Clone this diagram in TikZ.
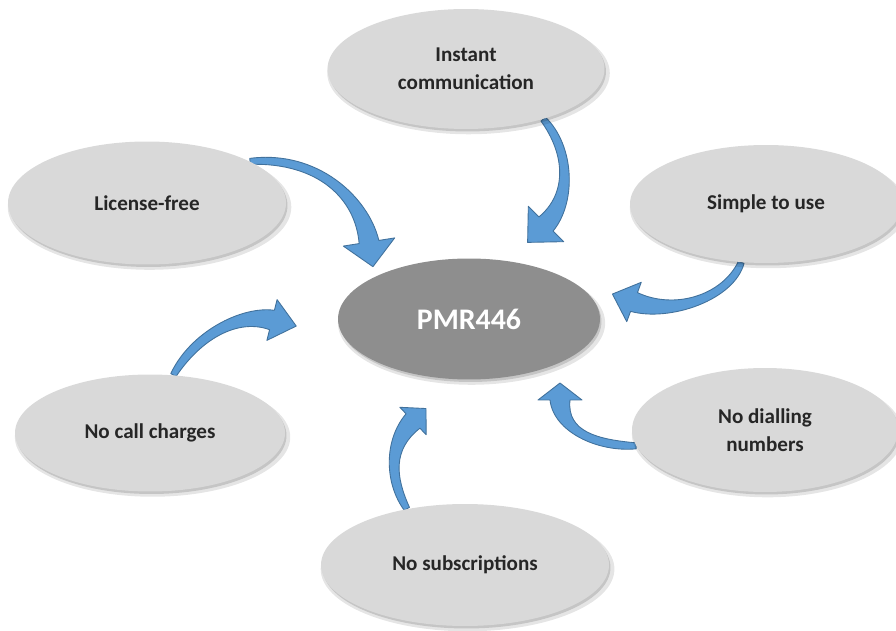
\documentclass[tikz,border=0pt]{standalone}
\usepackage{fontspec}
\setmainfont{Carlito}
\usepackage{tikz}
\usetikzlibrary{shapes.geometric}
\usetikzlibrary{calc}
\usetikzlibrary{shadows}
\pgfdeclarelayer{edgelayer}
\pgfsetlayers{edgelayer,main}
\definecolor{bubblegray}{HTML}{D9D9D9}
\definecolor{hubgray}{HTML}{8E8E8E}
\definecolor{arrowblue}{HTML}{5B9BD5}
\definecolor{arrowedge}{HTML}{41719C}
\tikzset{softshadow/.style={
drop shadow={shadow xshift=0.05cm, shadow yshift=-0.08cm, shadow scale=1.02, opacity=.10, fill=black},
drop shadow={shadow xshift=0.03cm, shadow yshift=-0.05cm, opacity=.14, fill=black}}}
\tikzset{bubble/.style={ellipse, inner sep=0pt, fill=bubblegray, softshadow, align=center,
text=black!85, font=\bfseries\fontsize{12}{15.9}\selectfont}}
\tikzset{hubnode/.style={ellipse, inner sep=0pt, fill=hubgray, softshadow,
text=white, font=\bfseries\fontsize{17}{20}\selectfont}}
\tikzset{blockarrow/.style={fill=arrowblue, draw=arrowedge, line width=0.5pt, line join=round}}
% half widths of the bent arrows: tail, middle, shaft at the head
\newcommand{\tailwid}{0.06cm}
\newcommand{\midwid}{0.13cm}
\newcommand{\shaftwid}{0.2cm}
% tapered bent arrow: tail, two control points, head base, head length, head half width (px)
\newcommand{\bentarrow}[6]{%
\path #1 coordinate (ba-t) #2 coordinate (ba-p) #3 coordinate (ba-q) #4 coordinate (ba-b);
\pgfmathsetlengthmacro\headlen{#5*0.02cm}%
\pgfmathsetlengthmacro\headwid{#6*0.02cm}%
\filldraw[blockarrow]
($(ba-t)!\tailwid!90:(ba-p)$)
.. controls ($(ba-p)+($(ba-t)!\midwid!90:(ba-p)$)-(ba-t)$)
and ($(ba-q)+($(ba-b)!\midwid!-90:(ba-q)$)-(ba-b)$) ..
($(ba-b)!\shaftwid!-90:(ba-q)$)
-- ($(ba-b)!\headwid!-90:(ba-q)$)
-- ($(ba-b)!-\headlen!(ba-q)$)
-- ($(ba-b)!\headwid!90:(ba-q)$)
-- ($(ba-b)!\shaftwid!90:(ba-q)$)
.. controls ($(ba-q)+($(ba-b)!\midwid!90:(ba-q)$)-(ba-b)$)
and ($(ba-p)+($(ba-t)!\midwid!-90:(ba-p)$)-(ba-t)$) ..
($(ba-t)!\tailwid!-90:(ba-p)$) -- cycle;
}

\begin{document}
\begin{tikzpicture}[x=0.02cm, y=-0.02cm]
	\useasboundingbox (0,0) rectangle (896,631);
	\node [style=hubnode, minimum width=5.24cm, minimum height=2.42cm] (hub) at (469,319) {PMR446};
	\node [style=bubble, minimum width=5.54cm, minimum height=2.4cm] (inst) at (466,69) {Instant\\communication};
	\node [style=bubble, minimum width=5.44cm, minimum height=2.36cm] (simple) at (766,204) {Simple to use};
	\node [style=bubble, minimum width=5.56cm, minimum height=2.46cm] (lic) at (147,203) {License-free};
	\node [style=bubble, minimum width=5.4cm, minimum height=2.34cm] (calls) at (150,433) {No call charges};
	\node [style=bubble, minimum width=5.32cm, minimum height=2.48cm] (dial) at (765,430) {No dialling\\numbers};
	\node [style=bubble, minimum width=5.76cm, minimum height=2.44cm] (subs) at (465,565) {No subscriptions};
	% head bases of the arrows around the hub
	\coordinate (inLic) at (369,242);
	\coordinate (inInst) at (546,224);
	\coordinate (inSimple) at (634,302);
	\coordinate (inDial) at (560,400);
	\coordinate (inSubs) at (413,421);
	\coordinate (inCalls) at (272,320);
	\begin{pgfonlayer}{edgelayer}
		\bentarrow{(lic.22)}{(318,156)}{(362,198)}{(inLic)}{25}{26}
		\bentarrow{(inst.-33)}{(570,150)}{(572,198)}{(inInst)}{26}{25}
		\bentarrow{(simple.247)}{(728,298)}{(672,316)}{(inSimple)}{23}{21}
		\bentarrow{(dial.187)}{(598,446)}{(560,432)}{(inDial)}{17}{22}
		\bentarrow{(subs.136)}{(390,480)}{(388,445)}{(inSubs)}{18}{19}
		\bentarrow{(calls.68)}{(196,335)}{(240,312)}{(inCalls)}{25}{21}
	\end{pgfonlayer}
\end{tikzpicture}
\end{document}
